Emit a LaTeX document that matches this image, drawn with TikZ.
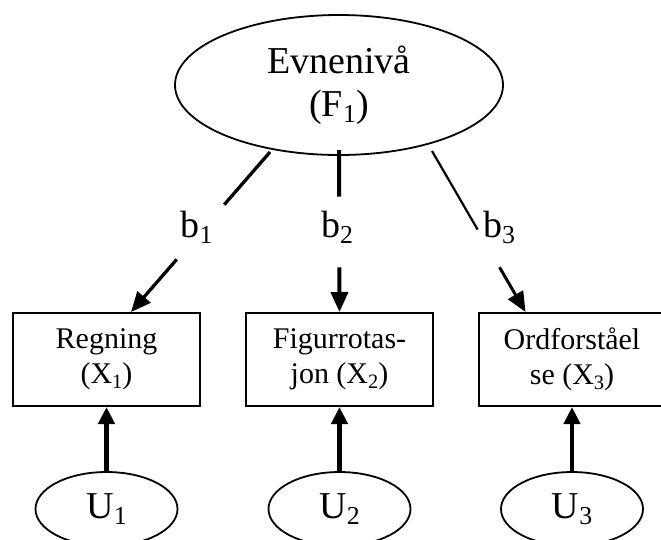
\documentclass[tikz,border=0pt]{standalone}
\usepackage{fontspec}
\setmainfont{Liberation Serif}
\usetikzlibrary{shapes.geometric,arrows.meta,calc}
% lowered, reduced index digit
\newcommand\subix[1]{\raisebox{-0.16em}{\scalebox{0.68}{#1}}}
\begin{document}
\begin{tikzpicture}[x=1pt,y=-1pt,
  latent/.style={ellipse,draw,line width=1.8pt,inner sep=0pt,align=center,
    font=\fontsize{38}{43}\selectfont},
  manifest/.style={rectangle,draw,line width=2pt,minimum width=187pt,
    minimum height=93pt,inner sep=0pt,align=center,
    font=\fontsize{30}{35}\selectfont},
  coef/.style={anchor=base,inner sep=0pt,font=\fontsize{38}{44}\selectfont},
  tip/.style={-{Triangle[length=20pt,width=17pt]}},
  errtip/.style={line width=4.5pt,-{Triangle[length=17pt,width=16pt]}},
]
\clip (0,0) rectangle (661,539);

% factor
\node[latent,minimum width=328pt,minimum height=140pt] (F) at (339,85)
  {Evnenivå\\(F\subix{1})};

% indicators
\node[manifest] (X1) at (106.5,359.5) {Regning\\(X\subix{1})};
\node[manifest] (X2) at (339.5,359.5) {Figurrotas-\\jon (X\subix{2})};
\node[manifest] (X3) at (572,359.5) {Ordforståel\\se (X\subix{3})};

% unique factors
\node[latent,minimum width=142pt,minimum height=74pt] (U1) at (106.5,509) {U\subix{1}};
\node[latent,minimum width=142pt,minimum height=74pt] (U2) at (339.5,509) {U\subix{2}};
\node[latent,minimum width=142pt,minimum height=74pt] (U3) at (572,509) {U\subix{3}};

% loading labels
\node[coef] (b1) at (196.5,237) {b\subix{1}};
\node[coef] (b2) at (337,237) {b\subix{2}};
\node[coef] (b3) at (499,237) {b\subix{3}};

% loading paths, broken around the labels
\coordinate (s1) at (270,152);
\coordinate (s2) at (339,150);
\coordinate (s3) at (432,151);
\coordinate (e1) at ($(X1.north)+(24.5,0)$);
\coordinate (e2) at (X2.north);
\coordinate (e3) at ($(X3.north)+(-46.5,0)$);

\draw[line width=3.3pt] (s1) -- ($(s1)!0.329!(e1)$);
\draw[line width=3.3pt,tip] ($(s1)!0.671!(e1)$) -- (e1);
\draw[line width=4pt] (s2) -- ($(s2)!0.288!(e2)$);
\draw[line width=4pt,tip] ($(s2)!0.724!(e2)$) -- (e2);
\draw[line width=2.2pt] (s3) -- ($(s3)!0.488!(e3)$);
\draw[line width=3pt,tip] ($(s3)!0.722!(e3)$) -- (e3);

% error paths
\draw[errtip] (U1) -- (X1);
\draw[errtip] (U2) -- (X2);
\draw[errtip] (U3) -- (X3);
\end{tikzpicture}
\end{document}
